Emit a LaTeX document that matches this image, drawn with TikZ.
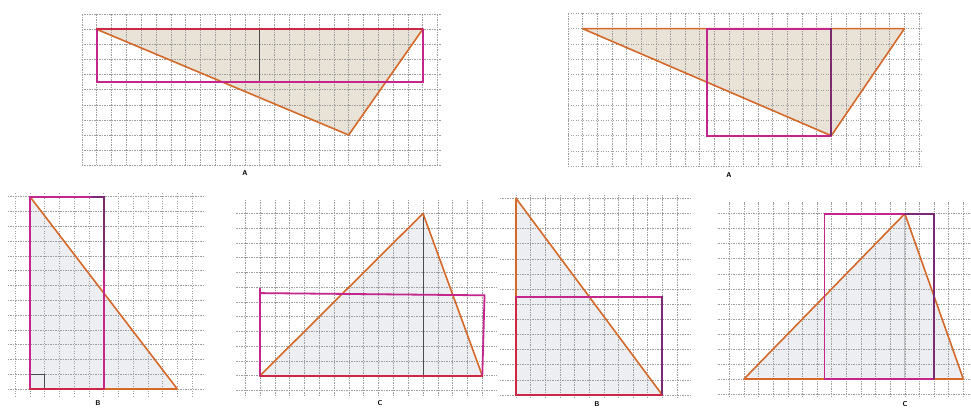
\documentclass[tikz,border=0pt]{standalone}
\usepackage{tikz}
\definecolor{triorange}{HTML}{D4692A}
\definecolor{rmag}{HTML}{C4268C}
\definecolor{rred}{HTML}{CC2846}
\definecolor{rpurp}{HTML}{7B2A72}
\definecolor{fillA}{HTML}{E9E2D6}
\definecolor{fillB}{HTML}{ECEEF2}
\newcommand{\paperGrid}[8]{%
  \foreach \i in {#1,...,#2} {\draw[gridline] (\i,#7) -- (\i,#8);}
  \foreach \j in {#3,...,#4} {\draw[gridline] (#5,\j) -- (#6,\j);}
}
\begin{document}
\begin{tikzpicture}[x=1pt,y=-1pt,
  gridline/.style={draw=black!38, line width=0.55pt, dash pattern=on 1.4pt off 1.1pt},
  tri/.style={draw=triorange, line width=1.6pt, line join=round, line cap=round},
  rm/.style={draw=rmag, line width=1.8pt, line cap=round},
  rr/.style={draw=rred, line width=1.8pt, line cap=round},
  rp/.style={draw=rpurp, line width=1.8pt, line cap=round},
  pencil/.style={draw=black!70, line width=0.8pt},
  faint/.style={draw=black!25, line width=0.8pt},
  lab/.style={font=\sffamily\bfseries\fontsize{7}{8}\selectfont, inner sep=0pt}]
\useasboundingbox (0,0) rectangle (971,409);
\fill[white] (0,0) rectangle (971,409);

% Panel 1 (A, left)
\begin{scope}[xshift=96.7pt, yshift=-29.3pt, x={(14.82pt,0)}, y={(0,-15.1pt)}]
  \fill[fillA] (0,0) -- (22,0) -- (17,7) -- cycle;
  \paperGrid{-1}{23}{-1}{9}{-1}{23.2}{-1}{9}
  \draw[pencil] (11,0) -- (11,3.5);
  \draw[tri] (0,0) -- (17,7) -- (22,0);
  \draw[rm] (0,0) -- (0,3.5) -- (22,3.5) -- (22,0);
  \draw[rr] (0,0) -- (22,0);
\end{scope}

% Panel 2 (A, right)
\begin{scope}[xshift=582.7pt, yshift=-28.7pt, x={(14.62pt,0)}, y={(0,-15.29pt)}]
  \fill[fillA] (0,0) -- (22,0) -- (17,7) -- cycle;
  \paperGrid{-1}{23}{-1}{9}{-1}{23.2}{-1}{9}
  \draw[tri] (0,0) -- (17,7) -- (22,0) -- cycle;
  \draw[rm] (17,0) -- (8.5,0) -- (8.5,7) -- (17,7);
  \draw[rp] (17,0) -- (17,7);
\end{scope}

% Panel 3 (B, left)
\begin{scope}[xshift=30pt, yshift=-196.7pt, x={(14.73pt,0)}, y={(0,-14.79pt)}]
  \fill[fillB] (0,0) -- (0,13) -- (10,13) -- cycle;
  \paperGrid{-1}{11}{0}{13}{-1.5}{11.9}{-0.25}{13.5}
  \draw[pencil] (0,12) -- (1,12) -- (1,13);
  \draw[tri] (0,0) -- (10,13) -- (0,13);
  \draw[rm] (0,13) -- (0,0) -- (5,0);
  \draw[rp] (4.2,0) -- (5,0) -- (5,5);
  \draw[rm] (5,5) -- (5,13);
  \draw[rr] (0,13) -- (5,13);
\end{scope}

% Panel 4 (C, left)
\begin{scope}[xshift=260pt, yshift=-375.7pt, x={(14.82pt,0)}, y={(0,14.75pt)}]
  \fill[fillB] (0,0) -- (15,0) -- (11,11) -- cycle;
  \paperGrid{-1}{15}{-1}{11}{-1.6}{16}{-1.4}{11.9}
  \draw[pencil] (11,0) -- (11,11);
  \draw[tri] (0,0) -- (11,11) -- (15,0);
  \draw[rm] (0,0) -- (0,5.9);
  \draw[rm] (0,5.6) -- (15.15,5.45) -- (15,0);
  \draw[rr] (0,0) -- (15,0);
\end{scope}

% Panel 5 (B, right)
\begin{scope}[xshift=516pt, yshift=-395pt, x={(14.63pt,0)}, y={(0,15.13pt)}]
  \fill[fillB] (0,0) -- (10,0) -- (0,13) -- cycle;
  \paperGrid{0}{11}{0}{13}{-1.1}{12}{-0.2}{13.2}
  \draw[tri] (10,0) -- (0,13) -- (0,0);
  \draw[rr] (0,0) -- (0,6.5);
  \draw[rm] (0,6.5) -- (10,6.5);
  \draw[rp] (10,6.5) -- (10,0);
  \draw[rr] (0,0) -- (10,0);
\end{scope}

% Panel 6 (C, right)
\begin{scope}[xshift=744pt, yshift=-379pt, x={(14.62pt,0)}, y={(0,15.03pt)}]
  \fill[fillB] (0,0) -- (15,0) -- (11,11) -- cycle;
  \paperGrid{-1}{15}{-1}{11}{-1.75}{15.45}{-1.2}{11.8}
  \draw[faint] (11,0) -- (11,11);
  \draw[tri] (0,0) -- (11,11) -- (15,0) -- cycle;
  \draw[rm] (13,0) -- (5.5,0) -- (5.5,11) -- (11,11);
  \draw[rp] (11,11) -- (13,11) -- (13,0);
\end{scope}

\node[lab] (labA1) at (245,173) {A};
\node[lab] (labA2) at (729,175) {A};
\node[lab] (labB1) at (98,403) {B};
\node[lab] (labC1) at (380,403) {C};
\node[lab] (labB2) at (597,404) {B};
\node[lab] (labC2) at (905,404) {C};
\end{tikzpicture}
\end{document}
